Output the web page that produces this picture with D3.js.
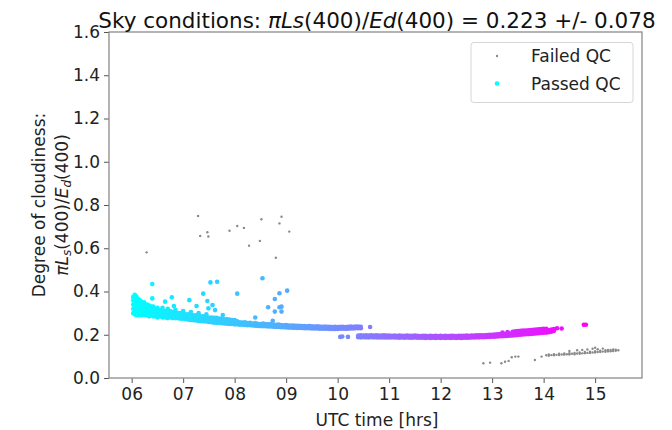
<!DOCTYPE html>
<html>
<head>
<meta charset="utf-8">
<script src="https://cdn.jsdelivr.net/npm/d3@7"></script>
<style>
  body { margin: 0; background: #fff; }
  svg { font-family: "DejaVu Sans", sans-serif; }
</style>
</head>
<body>
<div id="container"></div>
<script>
// CONSTANTS ###############################
const width = 672,
  height = 430,
  margin = { top: 32, left: 109, right: 30, bottom: 52 };

// DATA ####################################
const xTicks = [6, 7, 8, 9, 10, 11, 12, 13, 14, 15];
const yTicks = [0, 0.2, 0.4, 0.6, 0.8, 1.0, 1.2, 1.4, 1.6];
const legendLabels = ["Failed QC", "Passed QC"];

// passed QC: [time, [values read in that column]]
const passedColumns = [
  [6.03, [0.30, 0.32, 0.34, 0.36, 0.375]],
  [6.06, [0.295, 0.31, 0.33, 0.35, 0.37, 0.385]],
  [6.09, [0.29, 0.305, 0.32, 0.34, 0.36, 0.378]],
  [6.12, [0.29, 0.31, 0.325, 0.345, 0.365]],
  [6.15, [0.295, 0.31, 0.33, 0.35, 0.362]],
  [6.18, [0.29, 0.305, 0.32, 0.34, 0.355]],
  [6.21, [0.29, 0.31, 0.325, 0.345]],
  [6.24, [0.295, 0.31, 0.33, 0.35]],
  [6.27, [0.29, 0.305, 0.32, 0.34]],
  [6.30, [0.29, 0.305, 0.325, 0.34]],
  [6.34, [0.285, 0.30, 0.315, 0.335]],
  [6.38, [0.29, 0.305, 0.32, 0.33]],
  [6.42, [0.285, 0.30, 0.315, 0.33]],
  [6.46, [0.285, 0.30, 0.32]],
  [6.50, [0.28, 0.295, 0.31, 0.325]],
  [6.55, [0.285, 0.30, 0.315]],
  [6.60, [0.28, 0.295, 0.31, 0.325]],
  [6.65, [0.28, 0.295, 0.31]],
  [6.70, [0.277, 0.29, 0.305, 0.32]],
  [6.75, [0.28, 0.295, 0.31]],
  [6.80, [0.277, 0.29, 0.305]],
  [6.85, [0.277, 0.29, 0.30, 0.315]],
  [6.90, [0.276, 0.288, 0.30]],
  [6.95, [0.274, 0.286, 0.30]],
  [7.00, [0.274, 0.286, 0.297, 0.31]],
  [7.05, [0.272, 0.283, 0.295]],
  [7.10, [0.27, 0.282, 0.295]],
  [7.15, [0.268, 0.28, 0.29, 0.305]],
  [7.20, [0.267, 0.278, 0.29]],
  [7.25, [0.266, 0.276, 0.29]],
  [7.30, [0.264, 0.275, 0.288, 0.30]],
  [7.35, [0.263, 0.273, 0.285]],
  [7.40, [0.262, 0.272, 0.285]],
  [7.45, [0.261, 0.271, 0.282, 0.295]],
  [7.50, [0.259, 0.27, 0.28]],
  [7.55, [0.258, 0.268, 0.28]],
  [7.60, [0.256, 0.267, 0.278]],
  [7.65, [0.255, 0.265, 0.278]],
  [7.70, [0.255, 0.265, 0.275]],
  [7.75, [0.253, 0.262, 0.275]],
  [7.80, [0.252, 0.262, 0.272]],
  [7.85, [0.251, 0.26, 0.272]],
  [7.90, [0.25, 0.26, 0.27]],
  [7.95, [0.25, 0.258, 0.268]],
  [8.00, [0.248, 0.258, 0.268]],
  [8.05, [0.248, 0.262]],
  [8.10, [0.246, 0.258]],
  [8.15, [0.246, 0.256]],
  [8.20, [0.245, 0.258]],
  [8.25, [0.244, 0.254]],
  [8.30, [0.244, 0.255]],
  [8.35, [0.243, 0.252]],
  [8.40, [0.242, 0.254]],
  [8.45, [0.241, 0.251]],
  [8.50, [0.24, 0.25]],
  [8.55, [0.24, 0.252]],
  [8.60, [0.239, 0.249]],
  [8.65, [0.238, 0.248]],
  [8.70, [0.238, 0.25]],
  [8.75, [0.237, 0.247]],
  [8.80, [0.236, 0.246]],
  [8.85, [0.236, 0.247]],
  [8.90, [0.235, 0.245]],
  [8.95, [0.235, 0.244]],
  [9.00, [0.234, 0.245]],
  [9.05, [0.233, 0.243]],
  [9.10, [0.233, 0.242]],
  [9.15, [0.232, 0.242]],
  [9.20, [0.232, 0.241]],
  [9.25, [0.231, 0.241]],
  [9.30, [0.231, 0.24]],
  [9.35, [0.23, 0.24]],
  [9.40, [0.23, 0.239]],
  [9.45, [0.23, 0.24]],
  [9.50, [0.229, 0.239]],
  [9.55, [0.229, 0.238]],
  [9.60, [0.229, 0.239]],
  [9.65, [0.228, 0.238]],
  [9.70, [0.228, 0.237]],
  [9.75, [0.228, 0.238]],
  [9.80, [0.228, 0.237]],
  [9.85, [0.227, 0.237]],
  [9.90, [0.227, 0.236]],
  [9.95, [0.227, 0.237]],
  [10.00, [0.227, 0.236]],
  [10.05, [0.228, 0.237, 0.19]],
  [10.09, [0.192]],
  [10.10, [0.228, 0.237]],
  [10.15, [0.228, 0.236]],
  [10.20, [0.228, 0.237, 0.19]],
  [10.25, [0.229, 0.238]],
  [10.30, [0.229, 0.237]],
  [10.35, [0.23, 0.238]],
  [10.40, [0.23, 0.238, 0.189, 0.196]],
  [10.45, [0.23, 0.237, 0.188, 0.197]],
  [10.50, [0.189, 0.196]],
  [10.55, [0.188, 0.197]],
  [10.60, [0.188, 0.196]],
  [10.63, [0.236]],
  [10.65, [0.189, 0.197]],
  [10.70, [0.188, 0.196]],
  [10.75, [0.188, 0.197]],
  [10.80, [0.187, 0.196]],
  [10.85, [0.188, 0.196]],
  [10.90, [0.187, 0.197]],
  [10.95, [0.187, 0.196]],
  [11.00, [0.187, 0.196]],
  [11.05, [0.188, 0.195]],
  [11.10, [0.187, 0.196]],
  [11.15, [0.187, 0.195]],
  [11.20, [0.186, 0.196]],
  [11.25, [0.187, 0.195]],
  [11.30, [0.186, 0.195]],
  [11.35, [0.187, 0.196]],
  [11.40, [0.186, 0.195]],
  [11.45, [0.186, 0.195]],
  [11.50, [0.187, 0.196]],
  [11.55, [0.186, 0.195]],
  [11.60, [0.186, 0.194]],
  [11.65, [0.186, 0.195]],
  [11.70, [0.185, 0.195]],
  [11.75, [0.186, 0.194]],
  [11.80, [0.185, 0.195]],
  [11.85, [0.186, 0.194]],
  [11.90, [0.185, 0.195]],
  [11.95, [0.186, 0.194]],
  [12.00, [0.185, 0.195]],
  [12.05, [0.186, 0.194]],
  [12.10, [0.185, 0.195]],
  [12.15, [0.186, 0.194]],
  [12.20, [0.185, 0.195]],
  [12.25, [0.186, 0.195]],
  [12.30, [0.185, 0.194]],
  [12.35, [0.186, 0.195]],
  [12.40, [0.185, 0.195]],
  [12.45, [0.186, 0.195]],
  [12.50, [0.186, 0.196]],
  [12.55, [0.186, 0.195]],
  [12.60, [0.187, 0.196]],
  [12.65, [0.187, 0.196]],
  [12.70, [0.188, 0.197]],
  [12.75, [0.188, 0.197]],
  [12.80, [0.189, 0.198]],
  [12.85, [0.189, 0.198]],
  [12.90, [0.19, 0.199]],
  [12.95, [0.19, 0.2]],
  [13.00, [0.191, 0.2]],
  [13.05, [0.191, 0.201]],
  [13.10, [0.192, 0.202]],
  [13.15, [0.193, 0.203]],
  [13.20, [0.193, 0.203, 0.21]],
  [13.25, [0.194, 0.204]],
  [13.30, [0.195, 0.205, 0.212]],
  [13.35, [0.196, 0.206]],
  [13.40, [0.197, 0.207, 0.214]],
  [13.45, [0.198, 0.208, 0.216]],
  [13.50, [0.199, 0.208, 0.217]],
  [13.55, [0.2, 0.209, 0.218]],
  [13.60, [0.201, 0.21, 0.219]],
  [13.65, [0.202, 0.211, 0.22]],
  [13.70, [0.203, 0.212, 0.221]],
  [13.75, [0.204, 0.213, 0.222]],
  [13.80, [0.205, 0.214, 0.223]],
  [13.85, [0.206, 0.215, 0.224]],
  [13.90, [0.207, 0.216, 0.225]],
  [13.95, [0.208, 0.217, 0.226]],
  [14.00, [0.209, 0.218, 0.227]],
  [14.05, [0.21, 0.22, 0.228]],
  [14.10, [0.212, 0.222]],
  [14.15, [0.214, 0.224]],
  [14.20, [0.218, 0.226]],
  [14.26, [0.23]],
  [14.35, [0.229]],
  [14.78, [0.246]],
  [14.82, [0.246]]
];

// passed QC: isolated points above the band
const passedOutliers = [
  [6.40, 0.435], [6.40, 0.368], [6.65, 0.353], [6.78, 0.373], [6.82, 0.333],
  [7.12, 0.36], [7.26, 0.333], [7.39, 0.39], [7.47, 0.356], [7.49, 0.322],
  [7.53, 0.442], [7.66, 0.445], [7.57, 0.337], [7.62, 0.314], [7.77, 0.291],
  [8.05, 0.39], [8.40, 0.28], [8.54, 0.461], [8.65, 0.327], [8.74, 0.265],
  [8.78, 0.365], [8.78, 0.307], [8.87, 0.392], [8.87, 0.327], [8.91, 0.307],
  [9.02, 0.404], [8.91, 0.33]
];

// failed QC: scattered points
const failedPoints = [
  [6.29, 0.581], [7.29, 0.749], [7.33, 0.657], [7.47, 0.674], [7.49, 0.654],
  [7.90, 0.681], [8.05, 0.703], [8.18, 0.694], [8.28, 0.612], [8.49, 0.634],
  [8.52, 0.734], [8.80, 0.556], [8.87, 0.715], [8.91, 0.746], [9.06, 0.677],
  [12.83, 0.068], [12.96, 0.071], [13.18, 0.068], [13.25, 0.075], [13.32, 0.079],
  [13.38, 0.096], [13.45, 0.099], [13.51, 0.099], [13.83, 0.083], [13.96, 0.099]
];

// failed QC: band at the end of the day, [time, [values]]
const failedColumns = [
  [14.05, [0.105]], [14.10, [0.103, 0.109]], [14.15, [0.106]], [14.20, [0.105, 0.11]],
  [14.25, [0.107]], [14.30, [0.106, 0.112]], [14.35, [0.109]], [14.40, [0.108, 0.113]],
  [14.45, [0.11]], [14.50, [0.109, 0.115, 0.125]], [14.55, [0.112]], [14.60, [0.11, 0.116]],
  [14.65, [0.113, 0.128]], [14.70, [0.112, 0.118]], [14.75, [0.114, 0.13]], [14.80, [0.115, 0.12]],
  [14.85, [0.116, 0.132]], [14.90, [0.116, 0.122]], [14.95, [0.118, 0.135]], [15.00, [0.118, 0.124, 0.14]],
  [15.05, [0.12, 0.133]], [15.10, [0.12, 0.126]], [15.15, [0.122, 0.136]], [15.20, [0.121, 0.128]],
  [15.25, [0.123, 0.13]], [15.30, [0.124, 0.13]], [15.35, [0.125, 0.132]], [15.40, [0.126, 0.131]],
  [15.45, [0.128]]
];

// flatten columns into points
const passed = passedColumns.flatMap(([t, vs]) => vs.map(v => ({ t, v })))
  .concat(passedOutliers.map(([t, v]) => ({ t, v })));
const failed = failedPoints.map(([t, v]) => ({ t, v }))
  .concat(failedColumns.flatMap(([t, vs]) => vs.map(v => ({ t, v }))));

// SCALES ##################################
const xScale = d3.scaleLinear()
  .domain([5.56, 15.91])
  .range([margin.left, width - margin.right]);

const yScale = d3.scaleLinear()
  .domain([0, 1.6])
  .range([height - margin.bottom, margin.top]);

// matplotlib "cool" colormap over time
const colorScale = d3.scaleLinear()
  .domain(d3.extent(passed, d => d.t))
  .range(["#00ffff", "#ff00ff"]);

// DRAW ####################################
const svg = d3.select("#container")
  .append("svg")
  .attr("width", width)
  .attr("height", height);

// points
svg.append("g")
  .selectAll("circle.failed")
  .data(failed)
  .join("circle")
  .attr("class", "failed")
  .attr("cx", d => xScale(d.t))
  .attr("cy", d => yScale(d.v))
  .attr("r", 1.2)
  .attr("fill", "#8a8a8a");

svg.append("g")
  .selectAll("circle.passed")
  .data(passed)
  .join("circle")
  .attr("class", "passed")
  .attr("cx", d => xScale(d.t))
  .attr("cy", d => yScale(d.v))
  .attr("r", 2.3)
  .attr("fill", d => colorScale(d.t));

// axes
const xAxis = svg.append("g")
  .attr("transform", `translate(0,${height - margin.bottom})`)
  .call(d3.axisBottom(xScale).tickValues(xTicks).tickFormat(d3.format("02d")).tickSizeOuter(0).tickSize(5).tickPadding(5));

const yAxis = svg.append("g")
  .attr("transform", `translate(${margin.left},0)`)
  .call(d3.axisLeft(yScale).tickValues(yTicks).tickFormat(d3.format(".1f")).tickSizeOuter(0).tickSize(5).tickPadding(4));

[xAxis, yAxis].forEach(g => {
  g.selectAll("text").attr("font-size", 17).attr("fill", "#222").attr("font-family", "DejaVu Sans");
  g.selectAll(".tick line").attr("stroke", "#555");
  g.select(".domain").remove();
});

// frame
svg.append("rect")
  .attr("x", margin.left)
  .attr("y", margin.top)
  .attr("width", width - margin.left - margin.right)
  .attr("height", height - margin.top - margin.bottom)
  .attr("fill", "none")
  .attr("stroke", "#8c8c8c")
  .attr("stroke-width", 1.3);

// title
const title = svg.append("text")
  .attr("x", 377)
  .attr("y", 28)
  .attr("text-anchor", "middle")
  .attr("font-size", 21.5)
  .attr("fill", "#111");
title.append("tspan").text("Sky conditions: ");
title.append("tspan").attr("font-style", "italic").text("πLs");
title.append("tspan").text("(400)/");
title.append("tspan").attr("font-style", "italic").text("Ed");
title.append("tspan").text("(400) = 0.223 +/- 0.078");

// x label
svg.append("text")
  .attr("x", 377)
  .attr("y", 426)
  .attr("text-anchor", "middle")
  .attr("font-size", 17)
  .attr("fill", "#222")
  .text("UTC time [hrs]");

// y label, two lines
const yMid = (margin.top + height - margin.bottom) / 2;
svg.append("text")
  .attr("transform", `translate(45,${yMid}) rotate(-90)`)
  .attr("text-anchor", "middle")
  .attr("font-size", 17)
  .attr("fill", "#222")
  .text("Degree of cloudiness:");

const yLab2 = svg.append("text")
  .attr("transform", `translate(68,${yMid}) rotate(-90)`)
  .attr("text-anchor", "middle")
  .attr("font-size", 17)
  .attr("fill", "#222");
yLab2.append("tspan").attr("font-style", "italic").text("πL");
yLab2.append("tspan").attr("font-style", "italic").attr("font-size", 12).attr("dy", 3).text("s");
yLab2.append("tspan").attr("dy", -3).text("(400)/");
yLab2.append("tspan").attr("font-style", "italic").text("E");
yLab2.append("tspan").attr("font-style", "italic").attr("font-size", 12).attr("dy", 3).text("d");
yLab2.append("tspan").attr("dy", -3).text("(400)");

// legend
const legend = svg.append("g");
legend.append("rect")
  .attr("x", 471)
  .attr("y", 42.5)
  .attr("width", 162)
  .attr("height", 60)
  .attr("rx", 3)
  .attr("fill", "white")
  .attr("fill-opacity", 0.8)
  .attr("stroke", "#d6d6d6");

legendLabels.forEach((label, i) => {
  const cy = 56 + i * 27.5;
  legend.append("circle")
    .attr("cx", 497)
    .attr("cy", cy)
    .attr("r", i === 0 ? 1.2 : 2.3)
    .attr("fill", i === 0 ? "#8a8a8a" : colorScale.range()[0]);
  legend.append("text")
    .attr("x", 531)
    .attr("y", cy + 6)
    .attr("font-size", 17)
    .attr("fill", "#222")
    .text(label);
});
</script>
</body>
</html>
